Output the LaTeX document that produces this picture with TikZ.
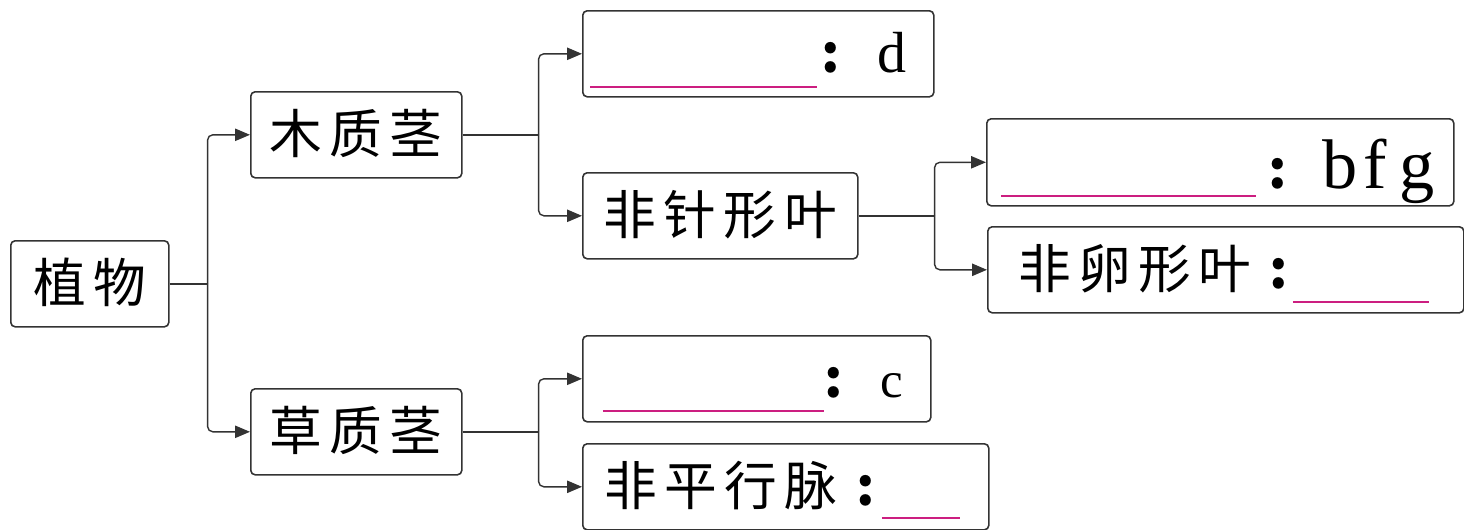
\documentclass[tikz,border=0pt]{standalone}
\usepackage{fontspec}
\usetikzlibrary{arrows.meta}
\newfontfamily\cjkfont[LetterSpace=14]{Noto Sans CJK SC}
\newfontfamily\latfont{Liberation Serif}
\newlength\pxu
\setlength\pxu{0.02cm}
\definecolor{blankpink}{RGB}{204,30,128}
\newcommand{\hanzi}[1]{{\cjkfont\fontsize{30}{36}\selectfont #1}}
\newcommand{\colonmark}{{\cjkfont\bfseries\fontsize{30}{36}\selectfont :}}
\newcommand{\blank}[2][15]{{\color{blankpink}\rule[-#1\pxu]{#2\pxu}{1.2pt}}}
\newcommand{\letters}[2]{{\latfont\fontsize{#1}{#1}\selectfont #2}}
\tikzset{
  box/.style={draw=black!80, line width=0.9pt, rounded corners=2.5pt, inner sep=0pt,
    anchor=north west, text height=62\pxu, text depth=24\pxu},
  link/.style={draw=black!80, line width=0.8pt},
  arr/.style={link, rounded corners=3pt, -{Triangle[length=8.5pt,width=7pt]}}
}
\begin{document}
\begin{tikzpicture}[x=0.02cm,y=-0.02cm]
  \useasboundingbox (0,0) rectangle (1464,529);
  % first level
  \node[box] (zhiwu) at (10,240) {\makebox[158\pxu][c]{\hanzi{植物}}};
  \node[box] (muzhi) at (250,91) {\makebox[211\pxu][c]{\hanzi{木质茎}}};
  \node[box] (caozhi) at (250,388) {\makebox[211\pxu][c]{\hanzi{草质茎}}};
  % woody branch
  \node[box] (boxD) at (582,10) {\makebox[351\pxu][l]{\hspace*{7\pxu}\blank{227}\makebox[28\pxu][c]{\colonmark}\hspace*{33\pxu}\letters{33}{d}}};
  \node[box] (feizhen) at (582,172) {\makebox[275\pxu][c]{\hanzi{非针形叶}}};
  \node[box, text height=70\pxu, text depth=17\pxu] (boxBFG) at (986,118) {\makebox[467\pxu][l]{\hspace*{14\pxu}\blank[8]{255}\makebox[44\pxu][c]{\colonmark}\hspace*{23\pxu}\letters{40}{b\hspace*{6\pxu}f\hspace*{12\pxu}g}}};
  \node[box] (feiluan) at (987,226) {\makebox[476\pxu][l]{\hspace*{17\pxu}\makebox[260\pxu][c]{\hanzi{非卵形叶}}\makebox[28\pxu][c]{\colonmark}\blank[14]{136}}};
  % herbaceous branch
  \node[box] (boxC) at (582,335) {\makebox[348\pxu][l]{\hspace*{20\pxu}\blank[14]{221}\makebox[20\pxu][c]{\colonmark}\hspace*{37\pxu}\letters{29}{c}}};
  \node[box] (feiping) at (582,443) {\makebox[406\pxu][l]{\hspace*{6\pxu}\makebox[264\pxu][c]{\hanzi{非平行脉}}\makebox[26\pxu][c]{\colonmark}\hspace*{3\pxu}\blank[13]{78}}};
  % branch points
  \path (zhiwu.east) ++(38,0) coordinate (jz);
  \path (muzhi.east) ++(76,0) coordinate (jm);
  \path (feizhen.east) ++(76,0) coordinate (jf);
  \path (caozhi.east) ++(76,0) coordinate (jc);
  % connectors
  \draw[link] (zhiwu.east) -- (jz);
  \draw[arr] (jz) |- (muzhi.west);
  \draw[arr] (jz) |- (caozhi.west);
  \draw[link] (muzhi.east) -- (jm);
  \draw[arr] (jm) |- (boxD.west);
  \draw[arr] (jm) |- (feizhen.west);
  \draw[link] (feizhen.east) -- (jf);
  \draw[arr] (jf) |- (boxBFG.west);
  \draw[arr] (jf) |- (feiluan.west);
  \draw[link] (caozhi.east) -- (jc);
  \draw[arr] (jc) |- (boxC.west);
  \draw[arr] (jc) |- (feiping.west);
\end{tikzpicture}
\end{document}
